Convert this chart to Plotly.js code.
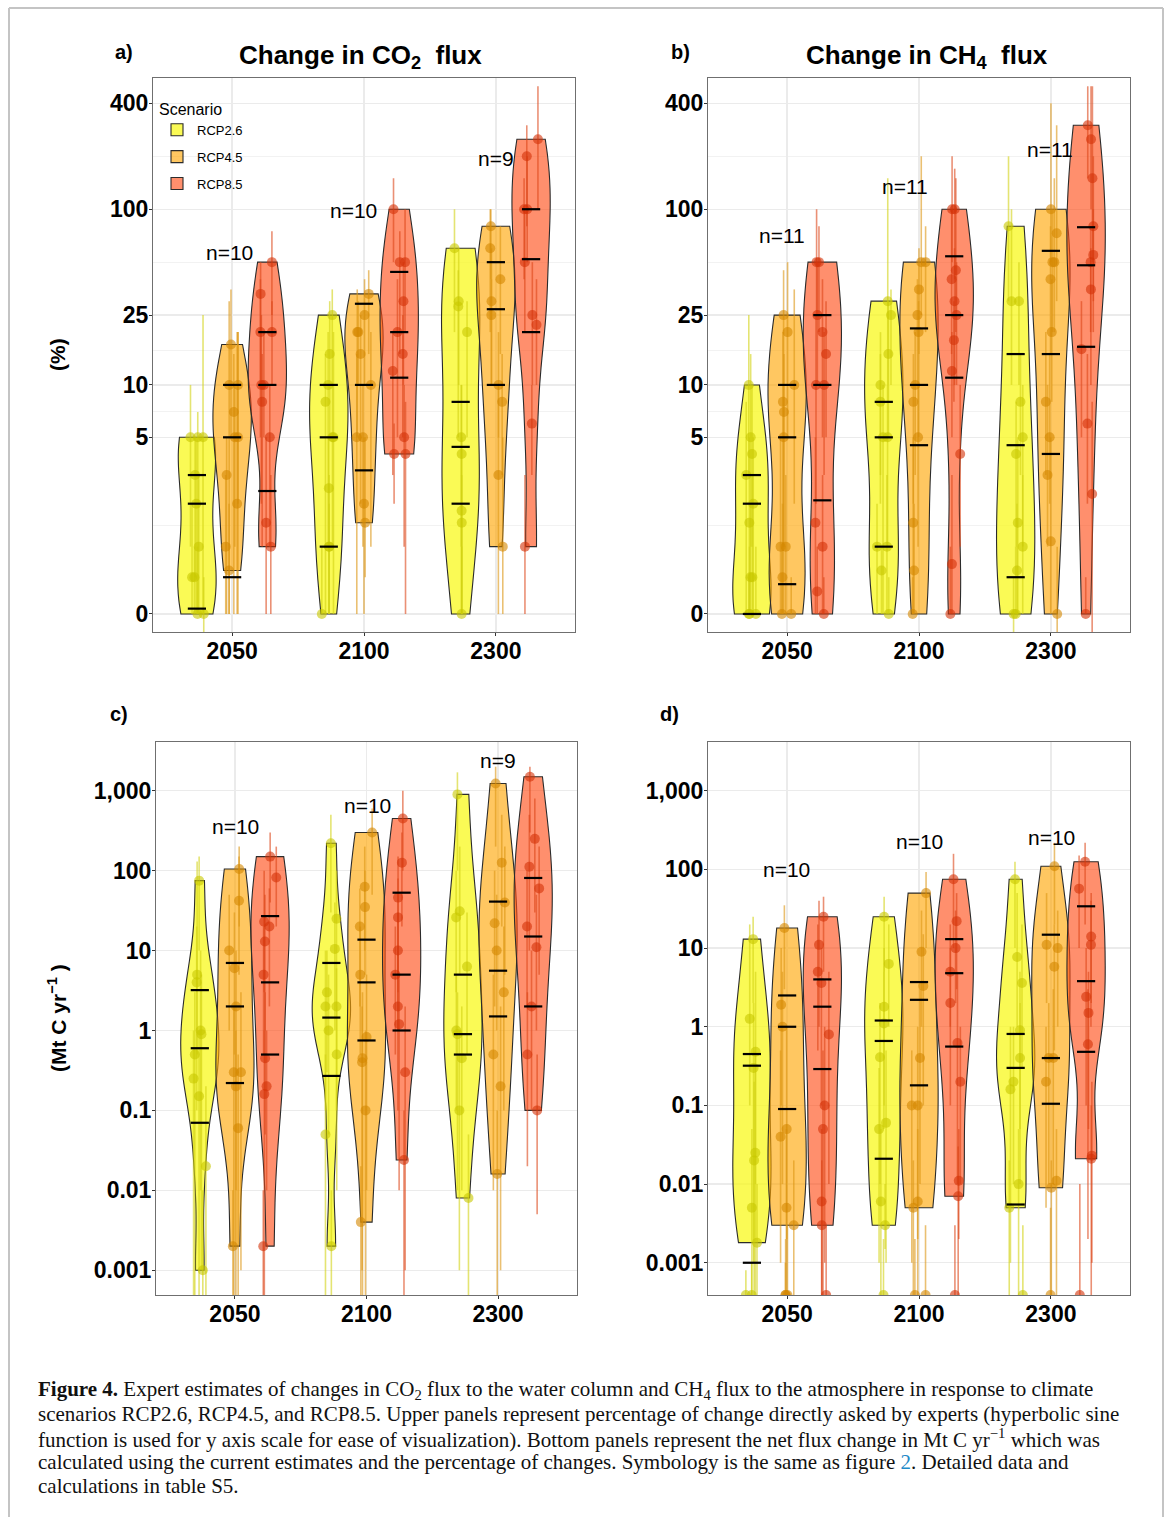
<!DOCTYPE html>
<html><head><meta charset="utf-8">
<script src="https://cdn.plot.ly/plotly-3.0.1.min.js"></script>
<style>html,body{margin:0;padding:0;background:#fff}</style>
</head><body><div id="chart" style="width:1168px;height:1517px"></div>
<script>
// ---------------- DATA ----------------
const years = ['2050', '2100', '2300'];
const scenarios = ['RCP2.6', 'RCP4.5', 'RCP8.5'];

// a) Change in CO2 flux (%)  -- per year: [2050, 2100, 2300]
const a26val = [[5,5,5,3,2,1,0.5,0.5,0,0],[25,15,10,8,5,5,2.5,1,1,0],[60,30,28,20,5,4,1.8,1.5,0]];
const a26hi  = [[25,10,7,5,5,3,2,1,1,0.5],[35,30,20,15,20,10,5,3,2,1],[100,60,45,30,10,10,5,3,1]];
const a26lo  = [[0,1,0,0.5,0,0,0,0,0,-1],[10,5,1,0,0,1,0,0,0,0],[20,10,5,5,1,0,0,0,0]];
const a26q   = [[0.07,2,3],[1,5,10],[2,4.4,8]];
const a45val = [[17,10,10,7,5,5,3,2,1,0.6],[33,25,20,20,15,10,5,5,2,1.5],[80,60,40,30,25,10,8,3,1]];
const a45hi  = [[35,30,20,15,20,10,5,20,3,2],[45,40,35,30,25,20,10,15,5,5],[100,100,80,60,40,20,15,10,5]];
const a45lo  = [[5,0,2,0,0,1,0,0,0,0],[15,10,5,10,2,1,1,0,0,0.5],[40,20,15,10,10,5,3,0,0]];
const a45q   = [[0.5,5,10],[3.2,10,29],[10,27,50]];
const a85val = [[50,33,20,20,10,10,8,5,1.5,1],[100,50,50,30,20,15,12,5,4,4],[250,200,100,100,50,25,22,6,1]];
const a85hi  = [[75,50,40,30,25,20,15,10,5,3],[150,100,75,50,40,25,20,10,8,6],[500,300,200,150,100,50,40,10,3]];
const a85lo  = [[25,10,5,10,2,5,1,1,0,0],[50,20,15,10,5,5,3,1,0,2],[100,80,50,40,20,10,10,3,0]];
const a85q   = [[2.4,10,20],[11,20,44],[20,52,100]];

// b) Change in CH4 flux (%)
const b26val = [[10,5,4,3,2,1.5,0.5,0.5,0,0,0],[30,25,15,10,8,5,5,1,1,0.6,0],[80,30,30,8,5,4,1.5,1,0.6,0,0]];
const b26hi  = [[25,15,10,8,5,5,3,2,1,1,0.5],[150,35,30,20,15,10,10,3,2,1,0.5],[200,100,50,15,10,8,5,3,2,1,0.5]];
const b26lo  = [[3,1,1,0,0,0,0,0,0,0,0],[10,10,5,3,2,1,0,0,0,0,0],[30,10,10,3,1,1,0,0,0,0,-1]];
const b26q   = [[0,2,3],[1,5,8],[0.5,4.5,15]];
const b45val = [[25,20,10,8,7,5,1,1,0.5,0,0],[50,50,35,25,20,10,8,5,1.5,0.6,0],[100,73,50,50,40,20,8,5,3,1.1,0]];
const b45hi  = [[45,50,35,20,15,10,5,3,2,1,0.5],[200,80,60,40,30,20,15,10,5,2,0.5],[400,300,150,100,80,40,20,15,10,5,1]];
const b45lo  = [[10,5,2,1,1,0,0,0,0,0,0],[25,20,15,10,5,3,2,1,0,0,0],[50,30,20,20,15,8,3,2,1,0,-1]];
const b45q   = [[0.4,5,10],[4.5,10,21],[4,15,58]];
const b85val = [[50,50,25,20,15,10,10,1.5,1,0.3,0],[100,100,45,40,30,25,18,12,4,0.7,0],[300,250,150,80,55,50,35,16,6,2.3,0]];
const b85hi  = [[100,80,50,40,30,20,25,5,3,1,0.5],[200,170,150,100,60,50,30,20,10,3,1],[500,500,500,200,100,80,60,30,15,8,0.5]];
const b85lo  = [[25,20,10,5,5,3,2,0,0,0,0],[50,40,20,15,10,10,8,5,1,0,0],[150,100,50,30,20,20,10,5,2,-1,0]];
const b85q   = [[2.1,10,25],[11,25,54],[16.5,48,79]];

// c) CO2 net flux change (Mt C yr-1)
const c26val = [[75,5,4,1,0.9,0.5,0.25,0.15,0.02,0.001],[220,25,10.5,3,2,2,1,0.5,0.05,0.002],[900,31,26,6.3,1,0.9,0.45,0.1,0.008]];
const c26hi  = [[150,130,20,10,5,3,1,1,0.2,0.01],[500,100,40,10,10,6,5,2,0.5,0.01],[1700,200,100,30,5,3,2,1,0.05]];
const c26lo  = [[10,0.5,0.1,0.01,0.001,1e-4,1e-4,1e-4,1e-4,1e-4],[30,2,1,0.3,0.1,0.1,0.05,0.01,1e-4,1e-4],[100,5,3,0.5,0.1,0.01,0.01,0.001,1e-4]];
const c26q   = [[0.07,0.6,3.2],[0.27,1.45,7],[0.5,0.9,5]];
const c45val = [[105,42,10,6,2,0.3,0.3,0.2,0.06,0.002],[300,63,35,20,5,0.83,0.45,0.4,0.1,0.004],[1230,126,40,22,10,3,0.5,0.2,0.016]];
const c45hi  = [[200,150,50,30,10,3,2,1,0.5,0.01],[600,200,100,60,20,5,3,2,1,0.02],[2000,500,200,100,50,20,5,2,0.1]];
const c45lo  = [[20,5,1,0.5,0.01,0.001,1e-4,1e-4,1e-4,1e-4],[50,10,5,2,0.5,0.01,1e-4,0.001,1e-4,1e-4],[200,20,5,2,1,0.1,0.01,0.001,1e-4]];
const c45q   = [[0.22,2,7],[0.75,4,13.7],[1.5,5.6,41]];
const c85val = [[150,82,23,20,13,5,0.45,0.2,0.16,0.002],[450,126,46,26,10,5,2,1.2,0.3,0.024],[1500,250,112,60,20,11,2,0.5,0.1]];
const c85hi  = [[300,200,100,60,50,20,3,1,1,0.01],[1000,300,150,80,30,20,10,5,2,0.1],[2000,800,500,200,100,50,10,3,0.5]];
const c85lo  = [[40,20,3,2,1,0.5,0.05,0.01,1e-4,1e-4],[100,20,5,3,1,0.5,0.1,0.01,0.001,1e-4],[300,30,10,5,2,1,0.1,0.02,0.005]];
const c85q   = [[0.5,4,27],[1,5,53],[2,15,81]];

// d) CH4 net flux change (Mt C yr-1)
const d26val = [[13,1.26,0.48,0.3,0.025,0.02,0.005,0.0018,0,0],[25,6.3,1.8,1.1,0.41,0.06,0.05,0.006,0.003,0],[75,7.7,3.6,0.9,0.4,0.2,0.16,0.01,0.005,0]];
const d26hi  = [[25,20,5,2,0.5,0.2,0.05,0.01,0.001,0.0008],[45,20,10,5,2,0.5,0.3,0.05,0.01,0.002],[125,50,20,5,2,1,1,0.05,0.02,0.003]];
const d26lo  = [[2,0.1,0.01,0.001,1e-4,1e-4,1e-4,1e-4,0,0],[5,1,0.1,0.05,0.01,0.001,0.001,1e-4,0.0015,0],[10,1,0.3,0.05,0.01,0.01,0.001,1e-4,1e-4,0]];
const d26q   = [[0.001,0.32,0.45],[0.021,0.66,1.2],[0.0055,0.3,0.81]];
const d45val = [[18,1.9,1,0.05,0.04,0.005,0.003,0,0,0],[50,9,3.3,0.4,0.1,0.1,0.006,0.005,0,0],[110,11,10,5.8,0.4,0.4,0.2,0.011,0.009,0]];
const d45hi  = [[35,10,5,1,0.5,0.05,0.02,0.003,0.002,0.001],[93,30,15,3,1,0.5,0.05,0.02,0.003,0.002],[218,50,30,20,3,2,1,0.05,0.02,0.005]];
const d45lo  = [[3,0.1,0.01,0.002,0.001,1e-4,1e-4,0,0,0],[10,1,0.1,0.01,0.002,0.001,1e-4,1e-4,0,0],[20,2,1,0.5,0.01,0.01,0.005,1e-4,1e-4,0]];
const d45q   = [[0.09,1,2.5],[0.18,2.2,3.7],[0.105,0.4,14.8]];
const d85val = [[25,11,5,3.6,0.8,0.1,0.05,0.006,0.003,0],[75,22,10,5,2,0.62,0.2,0.011,0.007,0],[125,57,14,11,2.4,1.5,0.6,0.023,0.021,0]];
const d85hi  = [[45,40,20,10,5,1,0.5,0.05,0.02,0.003],[158,50,30,20,10,5,1,0.05,0.03,0.003],[218,150,50,40,10,5,3,0.2,0.1,0.01]];
const d85lo  = [[5,1,0.5,0.1,0.01,0.001,1e-4,1e-4,1e-4,0],[10,3,2,1,0.1,0.01,0.01,0.002,1e-4,0],[20,10,2,1,0.1,0.05,0.002,0.001,1e-4,0]];
const d85q   = [[0.29,1.8,4],[0.56,4.8,13],[0.48,3.8,34]];

const pctTicks = [0, 5, 10, 25, 100, 400];
const pctTickText = ['0', '5', '10', '25', '100', '400'];
const fluxTicks = [0.001, 0.01, 0.1, 1, 10, 100, 1000];
const fluxTickText = ['0.001', '0.01', '0.1', '1', '10', '100', '1,000'];

// ---------------- STYLE / LAYOUT ----------------
const W = 1168, H = 1517;
const FONT = 'Liberation Sans, Arial, Helvetica, sans-serif';
const SERIF = 'Liberation Serif, Times New Roman, serif';
const px = x => x / W, py = y => 1 - y / H;
const fills   = ['rgba(248,248,20,0.72)', 'rgba(255,165,0,0.62)', 'rgba(255,75,20,0.62)'];
const ptCols  = ['rgba(200,200,0,0.6)', 'rgba(212,135,0,0.6)', 'rgba(212,50,8,0.6)'];
const barCols = ['rgba(210,210,20,0.6)', 'rgba(220,150,20,0.6)', 'rgba(220,70,25,0.6)'];
const offsets = [-0.267, 0, 0.267];
const VW = 0.29;

const asinhT = v => Math.asinh(v);
const logT = bottom => (v => v > 0 ? Math.log10(v) : bottom);

function q7(s, p) { const h = (s.length - 1) * p, l = Math.floor(h); const u = Math.min(l + 1, s.length - 1); return s[l] + (h - l) * (s[u] - s[l]); }
function bwNrd0(x) {
  const n = x.length, s = [...x].sort((a, b) => a - b);
  const m = x.reduce((a, b) => a + b, 0) / n;
  const sdv = Math.sqrt(x.reduce((a, b) => a + (b - m) * (b - m), 0) / (n - 1));
  const iqr = q7(s, 0.75) - q7(s, 0.25);
  let lo = Math.min(sdv, iqr / 1.34);
  if (!lo) lo = sdv || Math.abs(x[0]) || 1;
  return 0.9 * lo * Math.pow(n, -0.2);
}
function jit(i, k) { const s = Math.sin((i + 1) * 12.9898 + k * 78.233) * 43758.5453; return ((s - Math.floor(s)) * 2 - 1) * 0.055; }

const panels = [
  {xa: 'x', ya: 'y', T: asinhT, log: false, legend: true,
   val: [a26val, a45val, a85val], lo: [a26lo, a45lo, a85lo], hi: [a26hi, a45hi, a85hi], q: [a26q, a45q, a85q]},
  {xa: 'x2', ya: 'y2', T: asinhT, log: false,
   val: [b26val, b45val, b85val], lo: [b26lo, b45lo, b85lo], hi: [b26hi, b45hi, b85hi], q: [b26q, b45q, b85q]},
  {xa: 'x3', ya: 'y3', T: logT(-3.31), log: true,
   val: [c26val, c45val, c85val], lo: [c26lo, c45lo, c85lo], hi: [c26hi, c45hi, c85hi], q: [c26q, c45q, c85q]},
  {xa: 'x4', ya: 'y4', T: logT(-3.41), log: true,
   val: [d26val, d45val, d85val], lo: [d26lo, d45lo, d85lo], hi: [d26hi, d45hi, d85hi], q: [d26q, d45q, d85q]}
];

const violins = [], points = [], quants = [];
panels.forEach((p, pi) => {
  for (let s = 0; s < 3; s++) {
    for (let g = 0; g < 3; g++) {
      const vals = p.val[s][g], T = p.T;
      const xc = g + 1 + offsets[s];
      const vv = (p.log ? vals.filter(v => v > 0) : vals).map(T);
      violins.push({
        type: 'violin', x: vv.map(() => xc), y: vv, xaxis: p.xa, yaxis: p.ya,
        width: VW, spanmode: 'hard', scalemode: 'width', scalegroup: 'p' + pi,
        bandwidth: bwNrd0(vv), points: false, box: {visible: false}, meanline: {visible: false},
        fillcolor: fills[s], line: {color: '#2b2b2b', width: 1.1},
        name: scenarios[s], legendgroup: 'g' + s, legendrank: s + 1,
        showlegend: !!p.legend && g === 0, hoverinfo: 'skip'
      });
      const ty = vals.map(T);
      points.push({
        type: 'scatter', mode: 'markers', xaxis: p.xa, yaxis: p.ya,
        x: vals.map((v, i) => xc + jit(i, pi * 9 + s * 3 + g)), y: ty,
        marker: {size: 10, color: ptCols[s]},
        error_y: {type: 'data', symmetric: false,
          array: p.hi[s][g].map((h, i) => T(h) - ty[i]),
          arrayminus: p.lo[s][g].map((l, i) => ty[i] - T(l)),
          color: barCols[s], thickness: 1.6, width: 0},
        showlegend: false, hoverinfo: 'skip'
      });
      quants.push({
        type: 'scatter', mode: 'markers', xaxis: p.xa, yaxis: p.ya,
        x: p.q[s][g].map(() => xc), y: p.q[s][g].map(T),
        marker: {symbol: 'line-ew', size: 13, color: '#000', line: {color: '#000', width: 2.2}},
        showlegend: false, hoverinfo: 'skip'
      });
    }
  }
});

const axisCommon = {
  showline: true, mirror: true, linecolor: '#6f6f6f', linewidth: 1,
  showgrid: true, gridcolor: '#ebebeb', gridwidth: 1.4, zeroline: false,
  ticks: 'outside', ticklen: 3, tickcolor: '#333', tickwidth: 1,
  tickfont: {family: FONT, size: 23, color: '#000', weight: 700}, fixedrange: true
};
const xAxis = (dom, anchor) => Object.assign({}, axisCommon, {
  domain: dom, anchor: anchor, range: [0.4, 3.6], tickmode: 'array', tickvals: [1, 2, 3], ticktext: years,
  ticklabelstandoff: -5
});
const pctMinor = [];
for (let i = 0; i < pctTicks.length - 1; i++) pctMinor.push((Math.asinh(pctTicks[i]) + Math.asinh(pctTicks[i + 1])) / 2);
const yPct = (dom, anchor) => Object.assign({}, axisCommon, {
  domain: dom, anchor: anchor, range: [-0.236, 7.016], tickmode: 'array',
  tickvals: pctTicks.map(Math.asinh), ticktext: pctTickText, ticklabelstandoff: -4,
  minor: {tickmode: 'array', tickvals: pctMinor, showgrid: true, gridcolor: '#f1f1f1', gridwidth: 0.9, ticks: ''}
});
const yFlux = (dom, anchor, r) => Object.assign({}, axisCommon, {
  domain: dom, anchor: anchor, range: r, tickmode: 'array', ticklabelstandoff: -4,
  tickvals: fluxTicks.map(Math.log10), ticktext: fluxTickText
});

const topY = [py(632), py(78)], botY = [py(1295), py(742)];
const leftX = [px(153), px(575)], rightX = [px(708), px(1130)], leftXc = [px(156), px(577)];

const ann = [];
const txt = (x, y, text, size, opts) => ann.push(Object.assign({
  xref: 'paper', yref: 'paper', x: px(x), y: py(y), text: text, showarrow: false,
  font: {family: FONT, size: size, color: '#000'}, xanchor: 'center', yanchor: 'middle'
}, opts || {}));
const bold = (f) => ({font: Object.assign({family: FONT, color: '#000', weight: 700}, f)});

txt(124, 52, 'a)', 20, bold({size: 20}));
txt(680, 52, 'b)', 20, bold({size: 20}));
txt(119, 714, 'c)', 20, bold({size: 20}));
txt(669, 714, 'd)', 20, bold({size: 20}));
txt(360, 56, 'Change in CO<sub>2</sub>  flux', 26, bold({size: 26}));
txt(927, 56, 'Change in CH<sub>4</sub>  flux', 26, bold({size: 26}));
txt(57, 355, '(%)', 21, Object.assign(bold({size: 21}), {textangle: -90}));
txt(57, 1018, '(Mt C yr<sup>−1</sup> )', 21, Object.assign(bold({size: 21}), {textangle: -90}));

const nPos = [
  [[229, 253], [353, 210], [496, 158]],
  [[782, 236], [905, 186], [1050, 149]],
  [[235, 827], [367, 805], [498, 760]],
  [[787, 869], [919, 842], [1051, 837]]
];
panels.forEach((p, pi) => {
  for (let g = 0; g < 3; g++) txt(nPos[pi][g][0], nPos[pi][g][1], 'n=' + p.val[0][g].length, 21);
});

const caption = [
  '<b>Figure 4.</b> Expert estimates of changes in CO<sub>2</sub> flux to the water column and CH<sub>4</sub> flux to the atmosphere in response to climate',
  'scenarios RCP2.6, RCP4.5, and RCP8.5. Upper panels represent percentage of change directly asked by experts (hyperbolic sine',
  'function is used for y axis scale for ease of visualization). Bottom panels represent the net flux change in Mt C yr<sup>−1</sup> which was',
  'calculated using the current estimates and the percentage of changes. Symbology is the same as figure <span style="color:#1f8ac8">2</span>. Detailed data and',
  'calculations in table S5.'
];
caption.forEach((c, i) => txt(36, 1390 + i * 24, c, 21, {xanchor: 'left', font: {family: SERIF, size: 21, color: '#111'}}));

const layout = {
  width: W, height: H, margin: {l: 0, r: 0, t: 0, b: 0},
  paper_bgcolor: '#fff', plot_bgcolor: '#fff', showlegend: true, violinmode: 'overlay',
  xaxis: xAxis(leftX, 'y'), yaxis: yPct(topY, 'x'),
  xaxis2: xAxis(rightX, 'y2'), yaxis2: yPct(topY, 'x2'),
  xaxis3: xAxis(leftXc, 'y3'), yaxis3: yFlux(botY, 'x3', [-3.31, 3.61]),
  xaxis4: xAxis(rightX, 'y4'), yaxis4: yFlux(botY, 'x4', [-3.41, 3.62]),
  legend: {x: px(157), y: py(94), xanchor: 'left', yanchor: 'top', bgcolor: 'rgba(0,0,0,0)',
    title: {text: 'Scenario', font: {family: FONT, size: 16, color: '#000'}},
    font: {family: FONT, size: 13, color: '#000'}, tracegroupgap: 7, traceorder: 'grouped'},
  annotations: ann,
  shapes: [
    {type: 'line', xref: 'paper', yref: 'paper', x0: px(9), x1: px(1163), y0: py(8), y1: py(8), line: {color: '#c4c4c4', width: 2}},
    {type: 'line', xref: 'paper', yref: 'paper', x0: px(9), x1: px(9), y0: py(8), y1: 0, line: {color: '#c4c4c4', width: 2}},
    {type: 'line', xref: 'paper', yref: 'paper', x0: px(1163), x1: px(1163), y0: py(8), y1: 0, line: {color: '#c4c4c4', width: 2}}
  ]
};

Plotly.newPlot('chart', violins.concat(points, quants), layout, {displayModeBar: false, staticPlot: true});
</script></body></html>
